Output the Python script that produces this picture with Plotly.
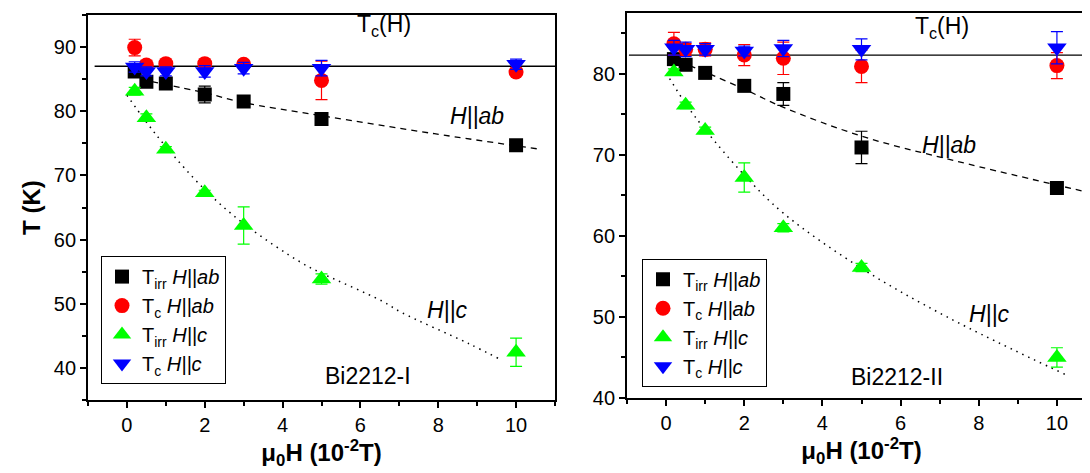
import plotly.graph_objects as go

# ---------------- data ----------------
H = [0.2, 0.5, 1, 2, 3, 5, 10]

# Panel I
L_tirr_ab = [86.2, 84.6, 84.3, 82.6, 81.5, 78.8, 74.7]
L_tirr_ab_err = [0.4, 0.9, 0.5, 1.3, 0.4, 0.5, 0.5]
L_tc_ab = [89.9, 87.2, 87.4, 87.4, 87.3, 84.8, 86.1]
L_tc_ab_err = [1.3, 0.7, 0.4, 0.4, 0.5, 3.0, 0.5]
L_tirr_c = [83.1, 79.0, 74.1, 67.3, 62.2, 53.9, 42.5]
L_tirr_c_err = [0.6, 0.6, 0.4, 0.4, 2.9, 0.8, 2.2]
L_tc_c = [86.9, 86.2, 86.2, 86.2, 86.7, 86.7, 87.3]
L_tc_c_err = [0.8, 0.7, 0.7, 0.9, 0.9, 1.2, 0.8]
L_tcH = 87.0
L_fit_ab_x = [0.64, 2.05, 2.95, 5.0, 7.9, 10.6]
L_fit_ab_y = [84.6, 82.8, 81.4, 79.3, 76.5, 74.1]
L_fit_c_x = [0.0, 0.5, 1.0, 2.0, 3.0, 4.49, 5.0, 6.54, 7.05, 8.76, 9.62]
L_fit_c_y = [82.5, 78.3, 74.5, 67.8, 62.5, 56.4, 54.8, 50.5, 48.7, 43.9, 41.3]

# Panel II
R_tirr_ab = [81.8, 81.1, 80.1, 78.5, 77.5, 70.9, 65.9]
R_tirr_ab_err = [0.6, 0.5, 0.6, 0.5, 1.4, 2.0, 0.8]
R_tc_ab = [83.7, 83.0, 83.0, 82.3, 81.9, 80.9, 81.0]
R_tc_ab_err = [1.4, 0.7, 0.8, 1.3, 2.0, 2.0, 1.6]
R_tirr_c = [80.2, 76.1, 73.0, 67.2, 61.0, 56.1, 45.0]
R_tirr_c_err = [0.4, 0.4, 0.4, 1.8, 0.5, 0.5, 1.2]
R_tc_c = [83.2, 83.0, 83.0, 82.8, 83.1, 83.0, 83.2]
R_tc_c_err = [0.9, 0.9, 0.7, 0.6, 1.0, 1.3, 2.0]
R_tcH = 82.3
R_fit_ab_x = [0.6, 1.0, 2.0, 2.93, 5.0, 7.44, 10.86]
R_fit_ab_y = [81.0, 80.2, 78.1, 76.0, 72.3, 69.2, 65.3]
R_fit_c_x = [0.09, 0.5, 1.0, 2.0, 3.0, 5.0, 7.19, 10.26]
R_fit_c_y = [79.4, 76.3, 73.1, 67.5, 62.8, 56.0, 50.0, 42.8]

legend_names = ["T<sub>irr</sub> <i>H||ab</i>", "T<sub>c</sub> <i>H||ab</i>",
                "T<sub>irr</sub> <i>H||c</i>", "T<sub>c</sub> <i>H||c</i>"]
colors = ["#000000", "#ff0000", "#00ff00", "#0000ff"]
symbols = ["square", "circle", "triangle-up", "triangle-down"]
sizes = [14, 15, 17, 17]

FONT = "Liberation Sans, Arial, sans-serif"

fig = go.Figure()


def add_panel(xa, ya, leg, series, errs, tcH, tcx0, fab_x, fab_y, fc_x, fc_y):
    fig.add_trace(go.Scatter(x=[tcx0, 11], y=[tcH, tcH], mode="lines",
                             line=dict(color="black", width=1.3),
                             showlegend=False, xaxis=xa, yaxis=ya, hoverinfo="skip"))
    fig.add_trace(go.Scatter(x=fab_x, y=fab_y, mode="lines", line_shape="spline",
                             line=dict(color="black", width=1.3, dash="6px,5px"),
                             showlegend=False, xaxis=xa, yaxis=ya, hoverinfo="skip"))
    fig.add_trace(go.Scatter(x=fc_x, y=fc_y, mode="lines", line_shape="spline",
                             line=dict(color="black", width=1.5, dash="1.5px,5px"),
                             showlegend=False, xaxis=xa, yaxis=ya, hoverinfo="skip"))
    for s, e, nm, c, sym, sz in zip(series, errs, legend_names, colors, symbols, sizes):
        fig.add_trace(go.Scatter(
            x=H, y=s, mode="markers", name=nm, legend=leg,
            marker=dict(symbol=sym, size=sz, color=c, line=dict(width=0)),
            error_y=dict(type="data", array=e, visible=True, color=c,
                         thickness=1.2, width=6),
            xaxis=xa, yaxis=ya))


add_panel("x", "y", "legend",
          [L_tirr_ab, L_tc_ab, L_tirr_c, L_tc_c],
          [L_tirr_ab_err, L_tc_ab_err, L_tirr_c_err, L_tc_c_err],
          L_tcH, -0.83, L_fit_ab_x, L_fit_ab_y, L_fit_c_x, L_fit_c_y)
add_panel("x2", "y2", "legend2",
          [R_tirr_ab, R_tc_ab, R_tirr_c, R_tc_c],
          [R_tirr_ab_err, R_tc_ab_err, R_tirr_c_err, R_tc_c_err],
          R_tcH, -0.95, R_fit_ab_x, R_fit_ab_y, R_fit_c_x, R_fit_c_y)

tickfont = dict(family=FONT, size=20, color="black")
titlefont = dict(family=FONT, size=24, color="black")

xdomL = [80 / 1090, 547 / 1090]
xdomR = [619 / 1090, 1088 / 1090]
ydomL = [1 - 401.7 / 473, 1 - 7 / 473]
ydomR = [1 - 399.3 / 473, 1 - 5 / 473]

xtitle = "<b>μ<sub>0</sub>H (10<sup>-2</sup>T)</b>"

common_x = dict(range=[-1, 11], dtick=2, tick0=0, ticks="outside", ticklen=6, tickwidth=1.5,
                tickcolor="black", showline=True, linewidth=1.8, linecolor="black", mirror=True,
                showgrid=False, zeroline=False, tickfont=tickfont,
                minor=dict(dtick=1, tick0=0, ticks="outside", ticklen=4, tickwidth=1.5,
                           tickcolor="black", showgrid=False),
                title=dict(text=xtitle, font=titlefont, standoff=2))
common_y = dict(ticks="outside", ticklen=6, tickwidth=1.5, tickcolor="black",
                showline=True, linewidth=1.8, linecolor="black", mirror=True,
                showgrid=False, zeroline=False, tickfont=tickfont, dtick=10)

fig.update_layout(
    width=1090, height=473,
    margin=dict(l=0, r=0, t=0, b=0),
    plot_bgcolor="white", paper_bgcolor="white",
    font=dict(family=FONT, color="black"),
    xaxis=dict(domain=xdomL, anchor="y", **common_x),
    xaxis2=dict(domain=xdomR, anchor="y2", **common_x),
    yaxis=dict(domain=ydomL, anchor="x", range=[35, 95], tick0=0,
               minor=dict(dtick=5, tick0=0, ticks="outside", ticklen=4, tickwidth=1.5,
                          tickcolor="black", showgrid=False),
               title=dict(text="<b>T (K)</b>", font=titlefont, standoff=6),
               **common_y),
    yaxis2=dict(domain=ydomR, anchor="x2", range=[40, 87.5], tick0=0,
                minor=dict(dtick=5, tick0=0, ticks="outside", ticklen=4, tickwidth=1.5,
                           tickcolor="black", showgrid=False),
                **common_y),
    legend=dict(x=93 / 1090, y=1 - 254 / 473, xanchor="left", yanchor="top",
                bgcolor="white", bordercolor="black", borderwidth=1,
                font=dict(family=FONT, size=20, color="black"), tracegroupgap=0,
                itemsizing="trace"),
    legend2=dict(x=634 / 1090, y=1 - 256.7 / 473, xanchor="left", yanchor="top",
                 bgcolor="white", bordercolor="black", borderwidth=1,
                 font=dict(family=FONT, size=20, color="black"), tracegroupgap=0,
                 itemsizing="trace"),
    showlegend=True,
)

ann_font = dict(family=FONT, size=23, color="black")
annotations = [
    dict(x=6.6, y=93.4, xref="x", yref="y", text="T<sub>c</sub>(H)"),
    dict(x=9.0, y=79.3, xref="x", yref="y", text="<i>H||ab</i>"),
    dict(x=8.25, y=49.0, xref="x", yref="y", text="<i>H||c</i>"),
    dict(x=6.2, y=38.8, xref="x", yref="y", text="Bi2212-I"),
    dict(x=7.06, y=85.7, xref="x2", yref="y2", text="T<sub>c</sub>(H)"),
    dict(x=7.23, y=71.2, xref="x2", yref="y2", text="<i>H||ab</i>"),
    dict(x=8.28, y=50.4, xref="x2", yref="y2", text="<i>H||c</i>"),
    dict(x=5.92, y=42.6, xref="x2", yref="y2", text="Bi2212-II"),
]
for a in annotations:
    fig.add_annotation(showarrow=False, font=ann_font, **a)

fig.write_html("out.html")
